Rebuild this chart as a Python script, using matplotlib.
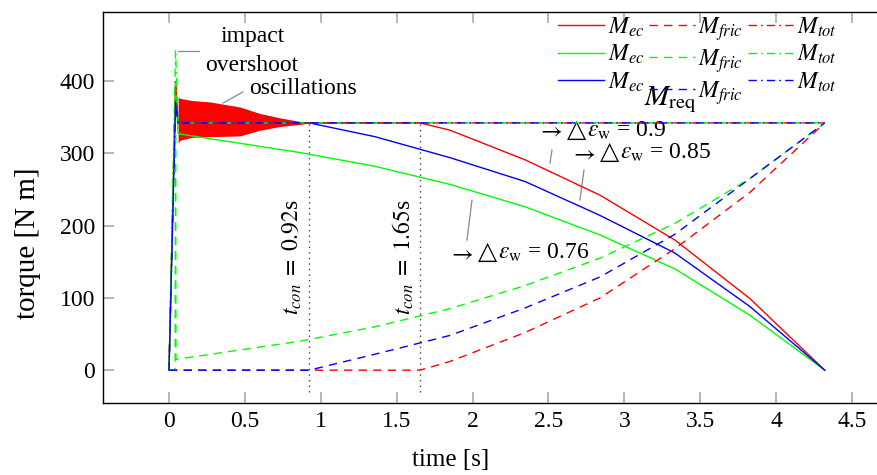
import matplotlib
matplotlib.use("Agg")
import matplotlib.pyplot as plt
from matplotlib.lines import Line2D

plt.rcParams['font.family'] = ['Liberation Serif', 'DejaVu Serif']
plt.rcParams['mathtext.fontset'] = 'stix'

# ---- data ----
# M_ec curves
red_ec_t = [0, 0.043, 0.06, 0.924, 1.653, 1.85, 2.345, 2.84, 3.333, 3.827, 4.32]
red_ec_v = [0, 399, 342, 342, 342, 332, 291, 242, 180, 99, 0]
green_ec_t = [0, 0.043, 0.06, 0.862, 1.356, 1.85, 2.345, 2.84, 3.333, 3.827, 4.32]
green_ec_v = [0, 397, 327, 301, 282, 257, 226, 187, 140, 76, 0]
blue_ec_t = [0, 0.043, 0.06, 0.924, 1.356, 1.85, 2.345, 2.84, 3.333, 3.827, 4.32]
blue_ec_v = [0, 371, 342, 342, 323, 294, 261, 214, 162, 88, 0]

# oscillation envelope of red M_ec
osc_t = [0.06, 0.072, 0.15, 0.27, 0.468, 0.6, 0.73, 0.863, 0.93]
osc_hi = [378, 376, 373, 371, 364, 355, 349, 344, 342]
osc_lo = [314, 318, 322, 323, 324, 332, 337, 340, 342]

# M_fric curves
red_fr_t = [0, 1.653, 1.85, 2.345, 2.84, 3.333, 3.827, 4.32]
red_fr_v = [0, 0, 12, 52, 100, 168, 246, 342]
green_fr_t = [0, 0.04, 0.043, 0.046, 0.862, 1.356, 1.85, 2.345, 2.84, 3.333, 3.827, 4.32]
green_fr_v = [0, 0, 330, 15, 40, 60, 85, 117, 155, 203, 265, 342]
blue_fr_t = [0, 0.924, 1.356, 1.85, 2.345, 2.84, 3.333, 3.827, 4.32]
blue_fr_v = [0, 0, 22, 48, 86, 129, 188, 265, 342]

# M_tot curves
tot_t = [0, 0.043, 0.06, 4.32]
red_tot_v = [0, 399, 342, 342]
green_tot_v = [0, 443, 342, 342]
blue_tot_v = [0, 371, 342, 342]

t_con = [0.924, 1.653]
t_con_labels = [r'$t_{con}\;=\;0.92$s', r'$t_{con}\;=\;1.65$s']
deps_values = ['0.9', '0.85', '0.76']
xticks = [0, 0.5, 1, 1.5, 2, 2.5, 3, 3.5, 4, 4.5]
xticklabels = ['0', '0.5', '1', '1.5', '2', '2.5', '3', '3.5', '4', '4.5']
yticks = [0, 100, 200, 300, 400]

RED, GREEN, BLUE = '#ff0000', '#00ff00', '#0000ff'
DASH = (0, (6, 4.5))
DASHDOT = (0, (6, 3, 1.2, 3))
LW = 1.0
W, H = 878.0, 475.0

fig = plt.figure(figsize=(8.78, 4.75), dpi=100)
ax = fig.add_axes([103.3 / W, 1 - 402.7 / H, 1 - 103.3 / W, (402.7 - 12.3) / H])
ax.set_xlim(-0.433, 4.671)
ax.set_ylim(-45, 495)

# oscillation band
ax.fill_between(osc_t, osc_lo, osc_hi, color=RED, lw=0, zorder=2)

# M_ec
ax.plot(red_ec_t, red_ec_v, color=RED, lw=LW, zorder=3)
ax.plot(green_ec_t, green_ec_v, color=GREEN, lw=LW, zorder=3)
ax.plot(blue_ec_t, blue_ec_v, color=BLUE, lw=LW, zorder=3)
# M_fric
ax.plot(red_fr_t, red_fr_v, color=RED, lw=LW, ls=DASH, zorder=3)
ax.plot(green_fr_t, green_fr_v, color=GREEN, lw=LW, ls=DASH, zorder=3)
ax.plot(blue_fr_t, blue_fr_v, color=BLUE, lw=LW, ls=DASH, zorder=3)
# M_tot
ax.plot(tot_t, red_tot_v, color=RED, lw=LW, ls=DASHDOT, zorder=4)
ax.plot(tot_t, green_tot_v, color=GREEN, lw=LW, ls=DASHDOT, zorder=4)
ax.plot(tot_t, blue_tot_v, color=BLUE, lw=LW, ls=DASHDOT, zorder=4)

# t_con markers
for tc, lab in zip(t_con, t_con_labels):
    ax.plot([tc, tc], [-30, 342], color='#444444', ls=(0, (1, 3)), lw=1.0, zorder=2)
    ax.text(tc - 0.11, 157, lab, rotation=90, ha='center', va='center', fontsize=17)

# annotations
gray = '#888888'
ax.plot([0.059, 0.198], [442, 442], color=gray, lw=0.9)
ax.text(0.553, 461, 'impact', ha='center', va='center', fontsize=17)
ax.text(0.547, 422, 'overshoot', ha='center', va='center', fontsize=17)
ax.plot([0.356, 0.487], [369.5, 384.8], color=gray, lw=0.9)
ax.text(0.883, 390, 'oscillations', ha='center', va='center', fontsize=17)


def deps_label(x, y_base, value):
    t0 = ax.text(x, y_base, r'$\rightarrow$', ha='left', va='baseline', fontsize=17)
    t1 = ax.annotate('\u25b3', xy=(1, y_base), xycoords=(t0, 'data'), xytext=(3, 0),
                     textcoords='offset points', ha='left', va='baseline',
                     fontsize=18, family='DejaVu Sans')
    ax.annotate(r'$\varepsilon_{\mathrm{w}}$ = ' + value, xy=(1, y_base), xycoords=(t1, 'data'),
                xytext=(0.5, 0), textcoords='offset points', ha='left', va='baseline', fontsize=17)


ax.plot([2.51, 2.523], [286.5, 304.5], color=gray, lw=0.9)
deps_label(2.424, 323, deps_values[0])
ax.plot([2.707, 2.734], [235.3, 276.8], color=gray, lw=0.9)
deps_label(2.642, 292, deps_values[1])
ax.plot([1.963, 1.996], [180, 235], color=gray, lw=0.9)
deps_label(1.838, 153.5, deps_values[2])

ax.text(3.30, 373.7, r'$M_{\mathrm{req}}$', ha='center', va='center', fontsize=21)

# axes styling
ax.spines['right'].set_visible(False)
for s in ['left', 'top', 'bottom']:
    ax.spines[s].set_linewidth(1.0)
ax.set_xticks(xticks)
ax.set_xticklabels(xticklabels)
ax.set_yticks(yticks)
ax.tick_params(direction='in', length=8, width=1.2, color='#aaaaaa', labelsize=17,
               top=True, right=False, pad=6)
ax.set_xlabel('time [s]', fontsize=18)
ax.set_ylabel('torque [N m]', fontsize=21)
ax.xaxis.set_label_coords((451 - 103.3) / (W - 103.3), -(460 - 402.7) / (402.7 - 12.3))
ax.yaxis.set_label_coords(-(103.3 - 28) / (W - 103.3), (402.7 - 243) / (402.7 - 12.3))
ax.xaxis.label.set_va('center')
ax.yaxis.label.set_va('center')

# legend
handles = [
    Line2D([], [], color=RED, lw=LW), Line2D([], [], color=GREEN, lw=LW), Line2D([], [], color=BLUE, lw=LW),
    Line2D([], [], color=RED, lw=LW, ls=DASH), Line2D([], [], color=GREEN, lw=LW, ls=DASH), Line2D([], [], color=BLUE, lw=LW, ls=DASH),
    Line2D([], [], color=RED, lw=LW, ls=DASHDOT), Line2D([], [], color=GREEN, lw=LW, ls=DASHDOT), Line2D([], [], color=BLUE, lw=LW, ls=DASHDOT),
]
labels = [r'$M_{ec}$'] * 3 + [r'$M_{fric}$'] * 3 + [r'$M_{tot}$'] * 3
fig.legend(handles, labels, ncol=3, loc='upper left', bbox_to_anchor=(558 / W, 1 - 15 / H),
           frameon=False, fontsize=17, handlelength=1.95, handletextpad=0.15,
           columnspacing=0.2, labelspacing=0.18, borderpad=0, borderaxespad=0)

fig.savefig('out.png', dpi=100)
